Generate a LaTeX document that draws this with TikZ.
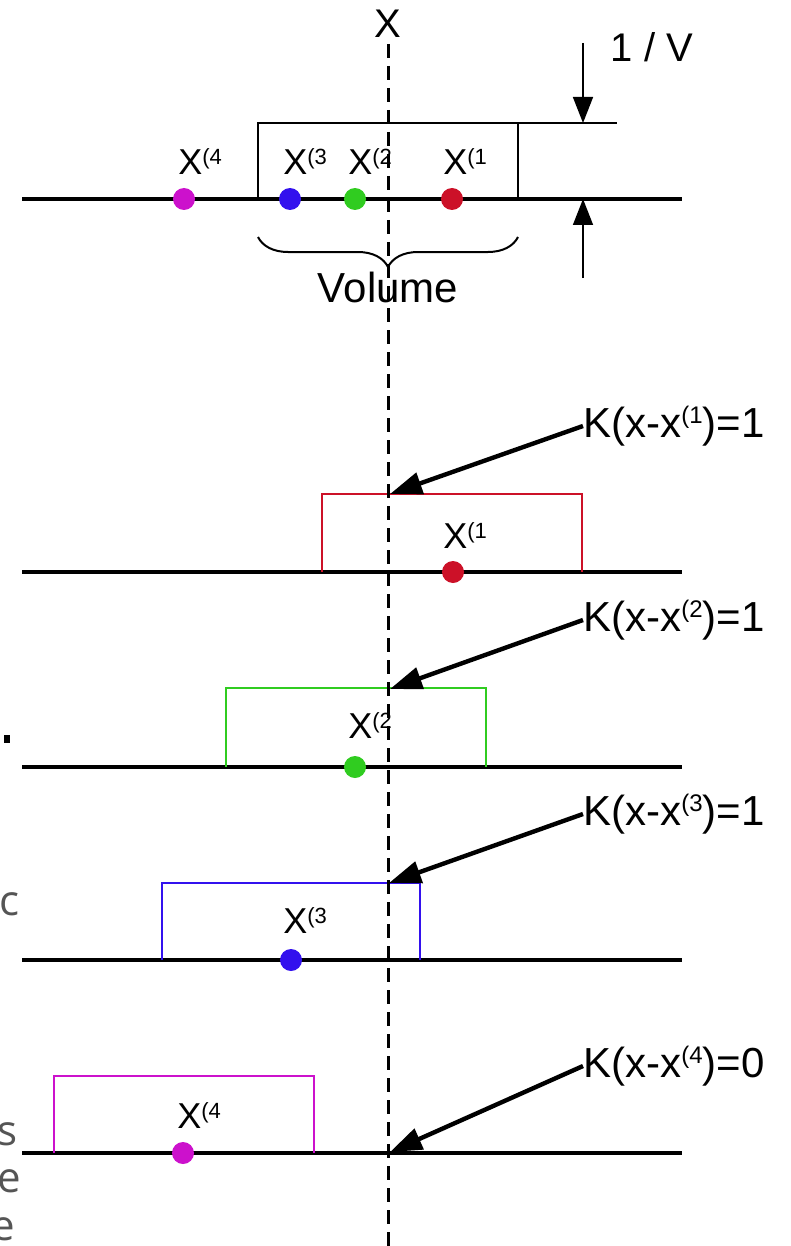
\documentclass[tikz,border=0pt]{standalone}
\usepackage{fontspec}
\setmainfont{Liberation Sans}
\newfontfamily\fragfont{Open Sans}
\usetikzlibrary{arrows.meta,decorations.pathreplacing}
\definecolor{kred}{HTML}{CC1128}
\definecolor{kgreen}{HTML}{30CC20}
\definecolor{kblue}{HTML}{3311EE}
\definecolor{kmag}{HTML}{CC11CC}
\definecolor{fraggray}{HTML}{555555}
\newcommand{\supl}[1]{\raisebox{5pt}{\fontsize{11}{12}\selectfont(#1}}
\newcommand{\ksup}[1]{\raisebox{7pt}{\fontsize{12}{12}\selectfont(#1}}
\begin{document}
\begin{tikzpicture}[x=0.5pt,y=-0.5pt,
  axis/.style={line width=1.7pt},
  kbox/.style={line width=1pt},
  cbox/.style={line width=1.4pt},
  vline/.style={line width=1.5pt, dash pattern=on 7pt off 4pt},
  dotn/.style={circle, inner sep=0pt, minimum size=11pt},
  lab/.style={font=\fontsize{18}{20}\selectfont, inner sep=0pt, anchor=base west},
  big/.style={font=\fontsize{20}{24}\selectfont, inner sep=0pt},
  klab/.style={font=\fontsize{21}{24}\selectfont, inner sep=0pt, anchor=west},
  ptr/.style={line width=2.2pt, -{Triangle[length=16pt,width=11pt]}},
  dimarrow/.style={line width=0.8pt, -{Triangle[length=13pt,width=10pt]}},
  frag/.style={font=\fragfont\fontsize{21}{24}\selectfont, text=fraggray, inner sep=0pt, anchor=base east}
]
\useasboundingbox (0,0) rectangle (791,1246);

% left-edge fragments (cut off by the page edge, as in the reference)
\fill (4,735) rectangle (10,743);
\node[frag] (fc) at (20,915) {c};
\node[frag] (fs) at (18,1145) {s};
\node[frag] (fne) at (21,1192) {ne};
\node[frag] (fe) at (15,1240) {e};

% ---------- top panel ----------
\draw[axis] (22,199) -- (682,199);
\draw[kbox] (258,199) -- (258,123) -- (617,123);
\draw[kbox] (518,123) -- (518,199);
\coordinate (d1) at (583,43);
\coordinate (d2) at (583,123);
\coordinate (d3) at (583,278);
\coordinate (d4) at (583,199);
\draw[dimarrow] (d1) -- (d2);
\draw[dimarrow] (d3) -- (d4);
\node[big] (oneV) at (652,47) {1 / V};
\node[big, anchor=base] (xtop) at (388,38) {X};
\draw[line width=1pt, decorate, decoration={brace, mirror, amplitude=15pt}] (258,237) -- (518,237);
\node[font=\fontsize{21}{24}\selectfont, inner sep=0pt] (vol) at (388,287) {Volume};

\node[lab] (t4) at (178,175) {X\supl{4}};
\node[lab] (t3) at (283,175) {X\supl{3}};
\node[lab] (t2) at (348,175) {X\supl{2}};
\node[lab] (t1) at (443,175) {X\supl{1}};

% ---------- panel 1 (red) ----------
\draw[axis] (22,572) -- (682,572);
\draw[cbox, kred] (322,572) -- (322,494) -- (582,494) -- (582,572);
\node[lab] (p1l) at (443,548) {X\supl{1}};
\node[klab] (k1) at (583,426) {K(x-x\ksup{1})=1};
\coordinate (a1) at (390,494);

% ---------- panel 2 (green) ----------
\draw[axis] (22,767) -- (682,767);
\draw[cbox, kgreen] (226,767) -- (226,688) -- (486,688) -- (486,767);
\node[lab] (p2l) at (348,738) {X\supl{2}};
\node[klab] (k2) at (583,620) {K(x-x\ksup{2})=1};
\coordinate (a2) at (390,689);

% ---------- panel 3 (blue) ----------
\draw[axis] (22,960) -- (682,960);
\draw[cbox, kblue] (162,960) -- (162,883) -- (420,883) -- (420,960);
\node[lab] (p3l) at (283,933) {X\supl{3}};
\node[klab] (k3) at (583,814) {K(x-x\ksup{3})=1};
\coordinate (a3) at (389,883);

% ---------- panel 4 (magenta) ----------
\draw[axis] (22,1153) -- (682,1153);
\draw[cbox, kmag] (54,1153) -- (54,1076) -- (314,1076) -- (314,1153);
\node[lab] (p4l) at (177,1128) {X\supl{4}};
\node[klab] (k4) at (583,1066) {K(x-x\ksup{4})=0};
\coordinate (a4) at (390,1152);

% dashed vertical line
\coordinate (vtop) at (388,44);
\coordinate (vbot) at (388,1246);
\draw[vline] (vtop) -- (vbot);

% dots
\node[dotn, fill=kmag] (c4) at (184,199) {};
\node[dotn, fill=kblue] (c3) at (290,199) {};
\node[dotn, fill=kgreen] (c2) at (355,199) {};
\node[dotn, fill=kred] (c1) at (452,199) {};
\node[dotn, fill=kred] (q1) at (453,572) {};
\node[dotn, fill=kgreen] (q2) at (355,767) {};
\node[dotn, fill=kblue] (q3) at (291,960) {};
\node[dotn, fill=kmag] (q4) at (183,1153) {};

% pointer arrows
\draw[ptr] (k1.west) -- (a1);
\draw[ptr] (k2.west) -- (a2);
\draw[ptr] (k3.west) -- (a3);
\draw[ptr] (k4.west) -- (a4);
\end{tikzpicture}
\end{document}
